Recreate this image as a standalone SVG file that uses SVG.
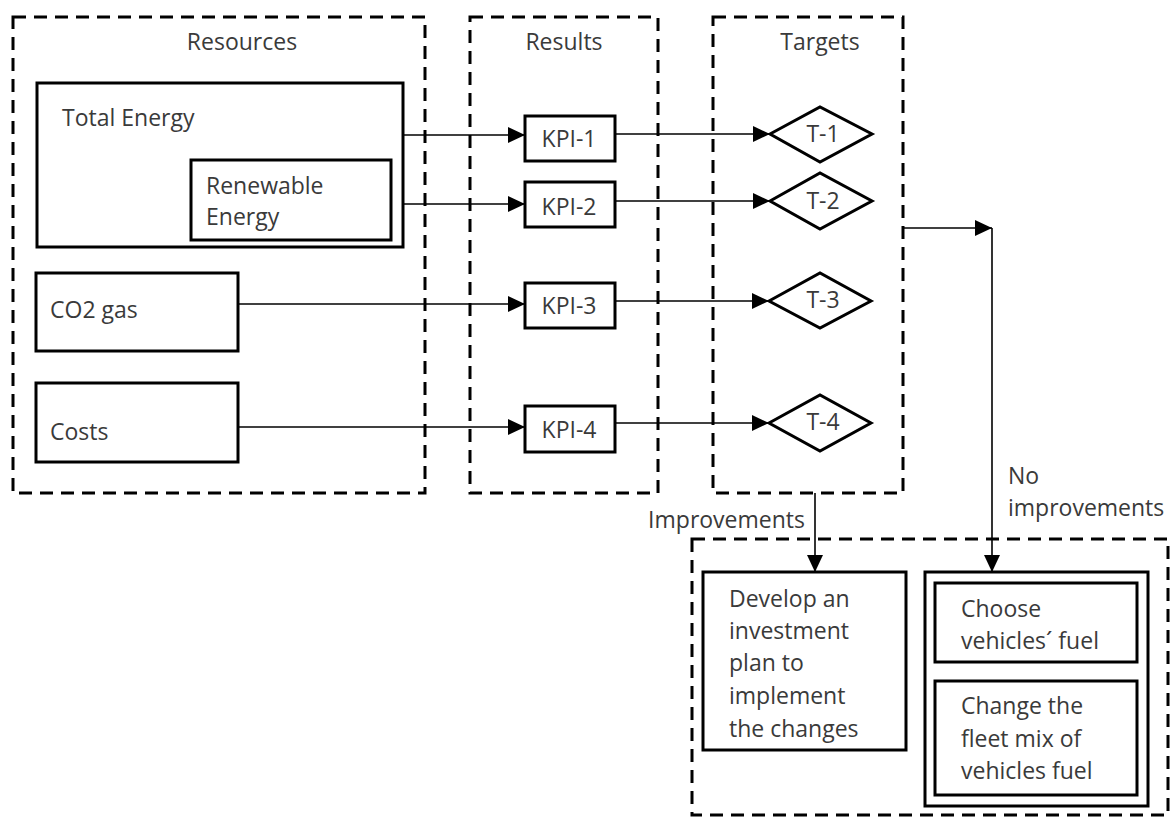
<svg xmlns="http://www.w3.org/2000/svg" width="1171" height="817" viewBox="0 0 1171 817">
<style>
text{font-family:"Open Sans","Noto Sans",sans-serif;font-size:23px;fill:#3a3a3a}
.c{text-anchor:middle}
.grp{fill:none;stroke:#000;stroke-width:3;stroke-dasharray:13 8}
.box{fill:#fff;stroke:#000;stroke-width:3}
.dia{fill:#fff;stroke:#000;stroke-width:3;stroke-linejoin:miter}
.con{fill:none;stroke:#000;stroke-width:1.6}
</style>
<defs>
<marker id="ah" markerUnits="userSpaceOnUse" markerWidth="17" markerHeight="16" refX="17" refY="8" orient="auto">
<path d="M0,0 L17,8 L0,16 z" fill="#000"/>
</marker>
</defs>
<rect width="1171" height="817" fill="#fff"/>

<g id="group-resources">
<rect class="grp" x="13" y="17" width="412" height="476"/>
<text class="c" x="242" y="50">Resources</text>
</g>
<g id="group-results">
<rect class="grp" x="470" y="17" width="188" height="476"/>
<text class="c" x="564" y="50">Results</text>
</g>
<g id="group-targets">
<rect class="grp" x="713" y="17" width="190" height="476"/>
<text class="c" x="820" y="50">Targets</text>
</g>
<g id="group-actions">
<rect class="grp" x="692" y="539" width="476" height="276"/>
</g>

<g id="connectors">
<line class="con" x1="403" y1="135" x2="525" y2="135" marker-end="url(#ah)"/>
<line class="con" x1="391" y1="204" x2="525" y2="204" marker-end="url(#ah)"/>
<line class="con" x1="238" y1="304" x2="525" y2="304" marker-end="url(#ah)"/>
<line class="con" x1="238" y1="427" x2="525" y2="427" marker-end="url(#ah)"/>
<line class="con" x1="615" y1="134" x2="770" y2="134" marker-end="url(#ah)"/>
<line class="con" x1="615" y1="201" x2="770" y2="201" marker-end="url(#ah)"/>
<line class="con" x1="615" y1="301" x2="769" y2="301" marker-end="url(#ah)"/>
<line class="con" x1="615" y1="423" x2="769" y2="423" marker-end="url(#ah)"/>
<line class="con" x1="903" y1="228" x2="992" y2="228" marker-end="url(#ah)"/>
<line class="con" x1="992" y1="228" x2="992" y2="572" marker-end="url(#ah)"/>
<line class="con" x1="815" y1="493" x2="815" y2="572" marker-end="url(#ah)"/>
<text x="805" y="528" style="text-anchor:end">Improvements</text>
<text x="1008" y="484">No</text>
<text x="1008" y="516">improvements</text>
</g>

<g id="total-energy">
<rect class="box" x="37" y="83" width="366" height="164"/>
<text x="62" y="126">Total Energy</text>
</g>
<g id="renewable-energy">
<rect class="box" x="191" y="160" width="200" height="80"/>
<text x="206" y="194">Renewable</text>
<text x="206" y="225">Energy</text>
</g>
<g id="co2-gas">
<rect class="box" x="36" y="273" width="202" height="78"/>
<text x="50" y="318">CO2 gas</text>
</g>
<g id="costs">
<rect class="box" x="36" y="383" width="202" height="79"/>
<text x="50" y="440">Costs</text>
</g>

<g id="kpi-1">
<rect class="box" x="525" y="116" width="90" height="45"/>
<text class="c" x="569" y="147">KPI-1</text>
</g>
<g id="kpi-2">
<rect class="box" x="525" y="182" width="90" height="45"/>
<text class="c" x="569" y="215">KPI-2</text>
</g>
<g id="kpi-3">
<rect class="box" x="525" y="283" width="90" height="45"/>
<text class="c" x="569" y="314">KPI-3</text>
</g>
<g id="kpi-4">
<rect class="box" x="525" y="406" width="90" height="46"/>
<text class="c" x="569" y="438">KPI-4</text>
</g>

<g id="t-1">
<polygon class="dia" points="770,134 820,107 872,134 820,162"/>
<text class="c" x="823" y="142">T-1</text>
</g>
<g id="t-2">
<polygon class="dia" points="770,201 820,173 872,201 820,229"/>
<text class="c" x="823" y="209">T-2</text>
</g>
<g id="t-3">
<polygon class="dia" points="769,301 820,273 871,301 820,328"/>
<text class="c" x="823" y="308">T-3</text>
</g>
<g id="t-4">
<polygon class="dia" points="769,423 820,395 871,423 820,451"/>
<text class="c" x="823" y="430">T-4</text>
</g>

<g id="develop-plan">
<rect class="box" x="703" y="572" width="203" height="178"/>
<text x="729" y="607">Develop an</text>
<text x="729" y="639">investment</text>
<text x="729" y="671">plan to</text>
<text x="729" y="704">implement</text>
<text x="729" y="737">the changes</text>
</g>
<g id="fuel-actions">
<rect class="box" x="925" y="572" width="223" height="234"/>
</g>
<g id="choose-fuel">
<rect class="box" x="935" y="583" width="202" height="79"/>
<text x="961" y="617">Choose</text>
<text x="961" y="649">vehicles´ fuel</text>
</g>
<g id="change-fleet">
<rect class="box" x="935" y="681" width="202" height="114"/>
<text x="961" y="714">Change the</text>
<text x="961" y="747">fleet mix of</text>
<text x="961" y="779">vehicles fuel</text>
</g>
</svg>
